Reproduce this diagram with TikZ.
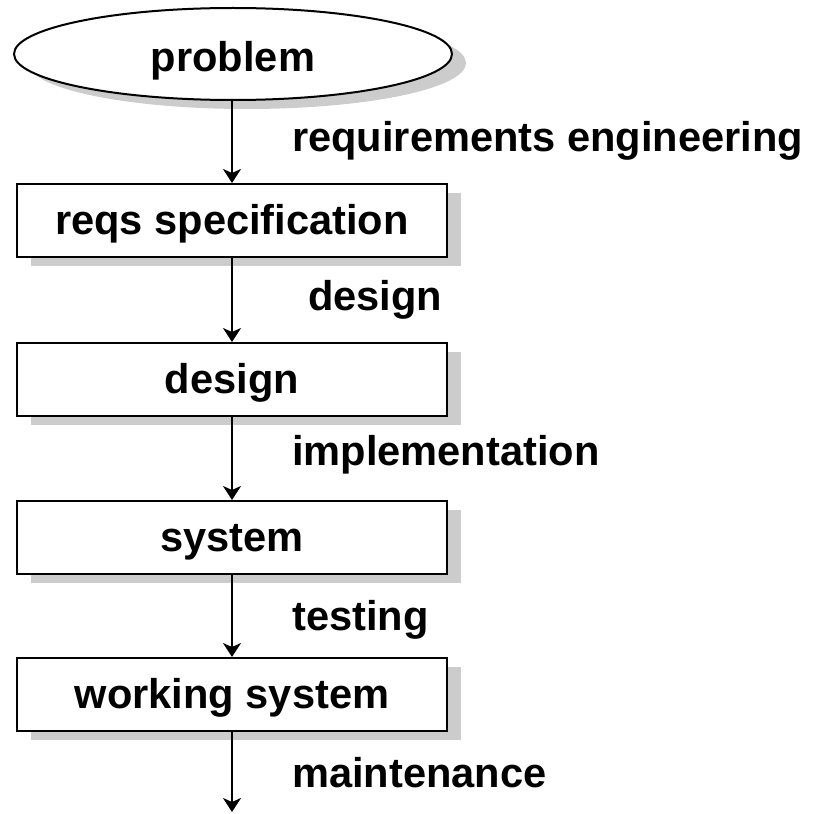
\documentclass[tikz,border=0pt]{standalone}
\usepackage{fontspec}
\setmainfont{Liberation Sans}
\usetikzlibrary{shapes.geometric,shadows,arrows.meta}
\begin{document}
\begin{tikzpicture}[x=1pt,y=-1pt,
  font=\bfseries\fontsize{41.6}{49}\selectfont,
  shad/.style={drop shadow={shadow xshift=14pt,shadow yshift=-9pt,fill=black!20,opacity=1}},
  stepbox/.style={draw,line width=2pt,fill=white,rectangle,minimum width=430pt,minimum height=73pt,inner sep=0pt,text height=32pt,text depth=5pt,shad},
  startnode/.style={draw,line width=2pt,fill=white,ellipse,minimum width=438pt,minimum height=92pt,inner sep=0pt,text height=40pt,text depth=4pt,shad},
  lbl/.style={anchor=base west,inner sep=0pt},
  conn/.style={line width=2pt,-{Stealth[length=14pt,width=18pt,inset=4pt]}}]
\useasboundingbox (0,0) rectangle (818,813);
\node[startnode] (e) at (233,54) {problem};
\node[stepbox] (b1) at (232,220.5) {reqs specification};
\node[stepbox] (b2) at (232,379.5) {design};
\node[stepbox] (b3) at (232,537.5) {system};
\node[stepbox] (b4) at (232,694.5) {working system};
\coordinate (end) at (232,812);
\draw[conn] (e.south -| b1.north) -- (b1.north);
\draw[conn] (b1) -- (b2);
\draw[conn] (b2) -- (b3);
\draw[conn] (b3) -- (b4);
\draw[conn] (b4) -- (end);
\node[lbl] (l1) at (292,152) {requirements engineering};
\node[lbl] (l2) at (308,310) {design};
\node[lbl] (l3) at (292,465) {implementation};
\node[lbl] (l4) at (292,630) {testing};
\node[lbl] (l5) at (292,787) {maintenance};
\end{tikzpicture}
\end{document}
